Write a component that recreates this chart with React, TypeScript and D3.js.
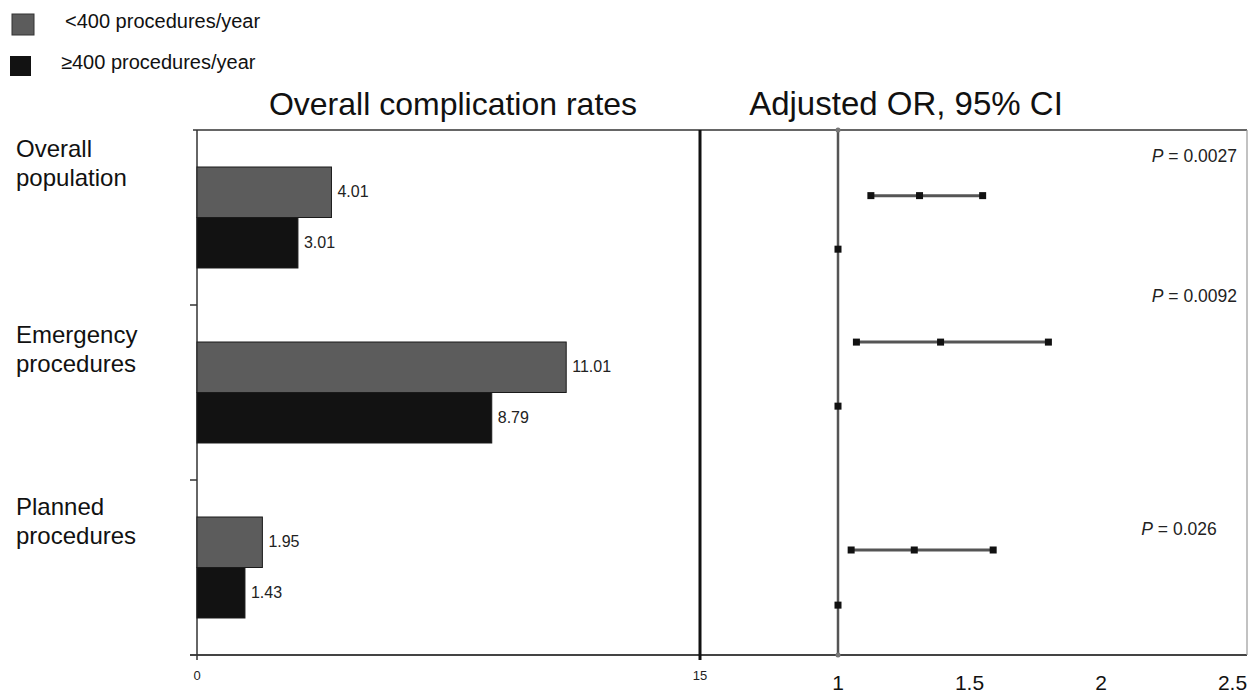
import React from "react";
import * as d3 from "d3";

const categories = ["Overall population", "Emergency procedures", "Planned procedures"];
const series = ["<400 procedures/year", "≥400 procedures/year"];
const lowVolumeRates = [4.01, 11.01, 1.95];
const highVolumeRates = [3.01, 8.79, 1.43];

// adjusted OR with 95% CI (low vs high volume)
const orPoint = [1.31, 1.39, 1.29];
const orLower = [1.125, 1.07, 1.05];
const orUpper = [1.55, 1.8, 1.59];
// rows of the forest plot, on the plot's own 0-10 vertical scale
const ciRow = [8.75, 5.96, 2.0];
const refRow = [7.73, 4.74, 0.95];
const pValues = ["0.0027", "0.0092", "0.026"];
const pRow = [9.4, 6.72, 2.29];
const pAnchorOR = [2.517, 2.517, 2.44];

const barTicks = [0, 15];
const orTicks = [1, 1.5, 2, 2.5];

const FONT = "'Liberation Sans', Arial, Helvetica, sans-serif";

export default function App() {
  const width = 1255;
  const height = 698;
  const top = 130;
  const bottom = 655;
  const left = 197;
  const mid = 700;
  const right = 1247;

  const xBar = d3.scaleLinear().domain([0, 15]).range([left, mid]);
  const xOR = d3.scaleLinear().domain([1, 2.5]).range([838, 1232.5]);
  const yRow = d3.scaleLinear().domain([0, 10]).range([bottom, top]);
  const y0 = d3.scaleBand<string>().domain(categories).range([top, bottom]);
  const y1 = d3
    .scaleBand<string>()
    .domain(series)
    .range([0, y0.bandwidth()])
    .paddingOuter(0.733);

  const colors = ["#5c5c5c", "#121212"];
  const rates = [lowVolumeRates, highVolumeRates];
  const labelShift = [27, 38, 35];

  return (
    <svg
      width={width}
      height={height}
      style={{ position: "absolute", left: 0, top: 0, background: "#fff" }}
      fontFamily={FONT}
    >
      {/* legend */}
      <rect x={12} y={14} width={22} height={21} fill={colors[0]} stroke="#333" />
      <text x={65} y={28} fontSize={20} fill="#111">{series[0]}</text>
      <rect x={10} y={56} width={21} height={20} fill={colors[1]} />
      <text x={61} y={69} fontSize={20} fill="#111">{series[1]}</text>

      {/* titles */}
      <text x={453} y={115} fontSize={32} textAnchor="middle" fill="#111">
        Overall complication rates
      </text>
      <text x={906} y={115} fontSize={33} textAnchor="middle" fill="#111">
        Adjusted OR, 95% CI
      </text>

      {/* frame */}
      <line x1={left - 4} x2={right} y1={top} y2={top} stroke="#333" strokeWidth={1.5} />
      <line x1={left - 7} x2={right} y1={bottom} y2={bottom} stroke="#444" strokeWidth={2} />
      <line x1={right} x2={right} y1={top} y2={bottom} stroke="#999" strokeWidth={1.2} />
      <line x1={left} x2={left} y1={top} y2={bottom + 5} stroke="#333" strokeWidth={1.5} />
      {categories.slice(1).map((c) => (
        <line
          key={c}
          x1={left - 7}
          x2={left}
          y1={y0(c)}
          y2={y0(c)}
          stroke="#333"
          strokeWidth={1.5}
        />
      ))}
      <line x1={mid} x2={mid} y1={top} y2={bottom + 5} stroke="#111" strokeWidth={3} />

      {/* category labels */}
      {categories.map((c, i) => {
        const words = c.split(" ");
        const y = (y0(c) ?? 0) + labelShift[i];
        return (
          <text key={c} x={16} y={y} fontSize={24} fill="#111">
            <tspan x={16}>{words[0]}</tspan>
            <tspan x={16} dy={29}>{words[1]}</tspan>
          </text>
        );
      })}

      {/* bars */}
      {categories.map((c, i) =>
        series.map((s, j) => {
          const yb = (y0(c) ?? 0) + (y1(s) ?? 0);
          const v = rates[j][i];
          return (
            <g key={c + s}>
              <rect
                x={xBar(0)}
                y={yb}
                width={xBar(v) - xBar(0)}
                height={y1.bandwidth()}
                fill={colors[j]}
                stroke="#1a1a1a"
                strokeWidth={1}
              />
              <text
                x={xBar(v) + 6}
                y={yb + y1.bandwidth() / 2 + 5}
                fontSize={16}
                fill="#222"
              >
                {v.toFixed(2)}
              </text>
            </g>
          );
        })
      )}

      {/* bar axis ticks */}
      {barTicks.map((t) => (
        <text key={t} x={xBar(t)} y={680} fontSize={13} textAnchor="middle" fill="#222">
          {t}
        </text>
      ))}

      {/* OR = 1 reference line */}
      <line x1={xOR(1)} x2={xOR(1)} y1={top} y2={bottom} stroke="#555" strokeWidth={2.5} />
      <circle cx={xOR(1)} cy={top} r={2.5} fill="#777" />
      <circle cx={xOR(1)} cy={bottom} r={2.5} fill="#777" />

      {/* forest plot */}
      {categories.map((c, i) => {
        const y = yRow(ciRow[i]);
        const m = 7;
        return (
          <g key={c}>
            <line
              x1={xOR(orLower[i])}
              x2={xOR(orUpper[i])}
              y1={y}
              y2={y}
              stroke="#555"
              strokeWidth={3}
            />
            {[orLower[i], orPoint[i], orUpper[i]].map((v, k) => (
              <rect key={k} x={xOR(v) - m / 2} y={y - m / 2} width={m} height={m} fill="#111" />
            ))}
            <rect
              x={xOR(1) - 3.5}
              y={yRow(refRow[i]) - 3.5}
              width={7}
              height={7}
              fill="#111"
            />
            <text
              x={xOR(pAnchorOR[i])}
              y={yRow(pRow[i])}
              fontSize={17.5}
              textAnchor="end"
              fill="#222"
            >
              <tspan fontStyle="italic">P</tspan>
              {" = " + pValues[i]}
            </text>
          </g>
        );
      })}

      {/* OR axis ticks */}
      {orTicks.map((t) => (
        <text key={t} x={xOR(t)} y={690} fontSize={21} textAnchor="middle" fill="#111">
          {t}
        </text>
      ))}
    </svg>
  );
}
